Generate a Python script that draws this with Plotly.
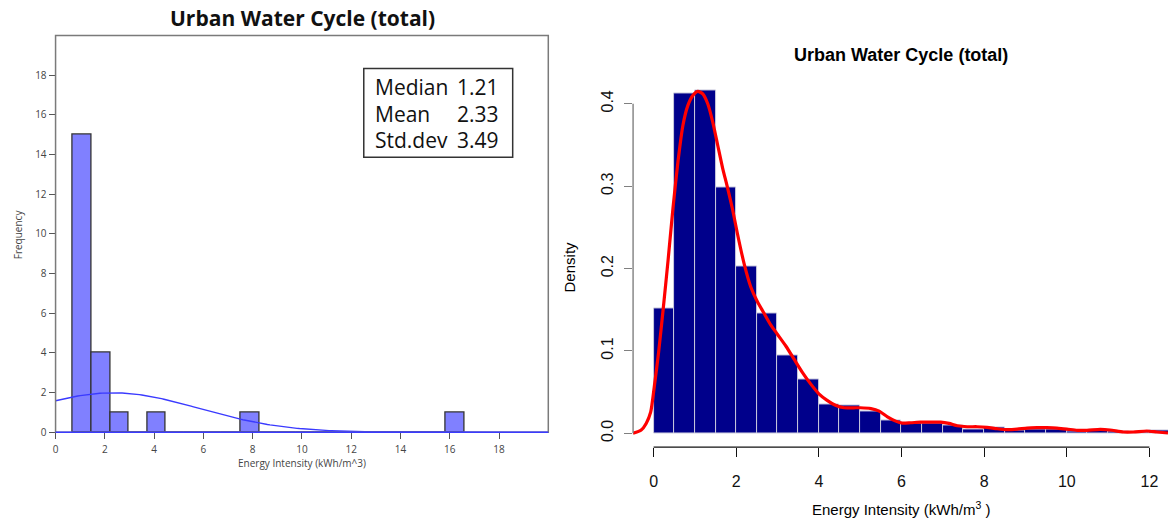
import numpy as np
import plotly.graph_objects as go

W, H = 1168, 528

# ---- Left panel: frequency histogram with fitted normal curve ----
freq_bin_start = 0.70
freq_bin_width = 0.757
freq_counts = [15, 4, 1, 0, 1, 0, 0, 0, 0, 1, 0, 0, 0, 0, 0, 0, 0, 0, 0, 0, 1]
stat_names = ["Median", "Mean", "Std.dev"]
stat_values = [1.21, 2.33, 3.49]
left_xticks = [0, 2, 4, 6, 8, 10, 12, 14, 16, 18]
left_yticks = [0, 2, 4, 6, 8, 10, 12, 14, 16, 18]

# ---- Right panel: density histogram with kernel density line ----
dens_bin_start = 0.0
dens_bin_width = 0.5
dens_values = [0.151, 0.413, 0.416, 0.299, 0.203, 0.145, 0.095, 0.065, 0.035, 0.034,
               0.027, 0.0152, 0.012, 0.0124, 0.0092, 0.0052, 0.007, 0.004, 0.0045, 0.005,
               0.0028, 0.003, 0.0018, 0.0012, 0.003]
kde_x = [-0.50, -0.30, -0.18, -0.07, 0.02, 0.12, 0.23, 0.35, 0.47, 0.59, 0.71, 0.83, 0.95,
         1.07, 1.19, 1.31, 1.43, 1.55, 1.67, 1.79, 1.91, 2.03, 2.19, 2.35, 2.51, 2.67,
         2.83, 3.00, 3.20, 3.40, 3.60, 3.80, 4.00, 4.20, 4.40, 4.61, 4.85, 5.00, 5.26,
         5.46, 5.66, 5.86, 6.02, 6.22, 6.46, 6.70, 6.95, 7.15, 7.35, 7.59, 7.83, 8.07,
         8.31, 8.56, 8.80, 9.04, 9.28, 9.52, 9.76, 10.00, 10.25, 10.49, 10.81, 11.05,
         11.37, 11.61, 11.94, 12.18, 12.45]
kde_y = [0.000, 0.004, 0.012, 0.026, 0.058, 0.098, 0.150, 0.210, 0.274, 0.330, 0.374, 0.398,
         0.410, 0.415, 0.412, 0.400, 0.378, 0.350, 0.322, 0.298, 0.272, 0.242, 0.206, 0.178,
         0.160, 0.146, 0.132, 0.120, 0.106, 0.090, 0.074, 0.060, 0.048, 0.040, 0.034, 0.031,
         0.031, 0.031, 0.030, 0.027, 0.020, 0.0148, 0.0124, 0.0128, 0.0136, 0.0136, 0.0136,
         0.012, 0.0092, 0.008, 0.008, 0.0072, 0.0056, 0.0044, 0.005, 0.0064, 0.0068, 0.0068,
         0.0064, 0.0052, 0.0036, 0.0036, 0.0048, 0.004, 0.0016, 0.0016, 0.0028, 0.0016, 0.0004]
right_xticks = [0, 2, 4, 6, 8, 10, 12]
right_yticks = [0.0, 0.1, 0.2, 0.3, 0.4]
right_yticklabels = ["0.0", "0.1", "0.2", "0.3", "0.4"]

TITLE = "Urban Water Cycle (total)"
SEGOE = "Open Sans, Noto Sans, sans-serif"
ARIAL = "Liberation Sans, Arial, sans-serif"


def px_x(p):
    return p / W


def px_y(p):
    return 1 - p / H


# panel geometry (paper fractions) and data ranges
L_XDOM = [px_x(52.7), px_x(546.7)]
L_YDOM = [px_y(437.3), px_y(36)]
R_XDOM = [px_x(631.7), 1.0]
R_YDOM = [px_y(452.3), px_y(74.3)]
L_XRANGE = [0, 20]
L_YRANGE = [0, 20]
R_XRANGE = [-0.497, 12.45]
R_YRANGE = [-0.0168, 0.4368]


def to_paper(v, dom, rng):
    return dom[0] + (v - rng[0]) / (rng[1] - rng[0]) * (dom[1] - dom[0])


fig = go.Figure()

# left histogram bars
n_total = sum(freq_counts)
freq_centers = [freq_bin_start + (i + 0.5) * freq_bin_width for i in range(len(freq_counts))]
fig.add_trace(go.Bar(
    x=freq_centers, y=freq_counts, width=freq_bin_width,
    marker=dict(color="rgba(128,128,255,1)", line=dict(color="#333333", width=1.3)),
    xaxis="x", yaxis="y", showlegend=False, hoverinfo="skip",
))

# fitted normal curve scaled to counts
mu, sd = stat_values[1], stat_values[2]
nx = np.linspace(0, 20, 201)
ny = n_total * freq_bin_width * np.exp(-0.5 * ((nx - mu) / sd) ** 2) / (sd * np.sqrt(2 * np.pi))
fig.add_trace(go.Scatter(
    x=nx, y=ny, mode="lines", line=dict(color="#3a3aff", width=1.4),
    xaxis="x", yaxis="y", showlegend=False, hoverinfo="skip",
))

# right histogram bars
dens_centers = [dens_bin_start + (i + 0.5) * dens_bin_width for i in range(len(dens_values))]
fig.add_trace(go.Bar(
    x=dens_centers, y=dens_values, width=dens_bin_width,
    marker=dict(color="#00008b", line=dict(color="#c9c9dc", width=1)),
    xaxis="x2", yaxis="y2", showlegend=False, hoverinfo="skip",
))

# kernel density line
fig.add_trace(go.Scatter(
    x=kde_x, y=kde_y, mode="lines",
    line=dict(color="#ff0000", width=3.2, shape="spline", smoothing=0.6),
    xaxis="x2", yaxis="y2", showlegend=False, hoverinfo="skip", cliponaxis=False,
))

left_tick_font = dict(family=SEGOE, size=10, color="#444444")
right_tick_font = dict(family=ARIAL, size=16, color="#111111")

fig.update_layout(
    width=W, height=H,
    margin=dict(l=0, r=0, t=0, b=0),
    paper_bgcolor="white", plot_bgcolor="white",
    bargap=0,
    barmode="overlay",
    xaxis=dict(
        domain=L_XDOM, range=L_XRANGE,
        tickvals=left_xticks, ticks="outside", ticklen=6, tickcolor="#555555",
        tickfont=left_tick_font, showgrid=False, zeroline=False, showline=False,
        anchor="y", ticklabelstandoff=2,
    ),
    yaxis=dict(
        domain=L_YDOM, range=L_YRANGE,
        tickvals=left_yticks, ticks="outside", ticklen=6, tickcolor="#555555",
        tickfont=left_tick_font, showgrid=False, zeroline=False, showline=False,
        anchor="x",
    ),
    xaxis2=dict(
        domain=R_XDOM, range=R_XRANGE,
        tickvals=right_xticks, ticks="outside", ticklen=9, tickwidth=1.4, tickcolor="#111111",
        tickfont=right_tick_font, showgrid=False, zeroline=False, showline=False,
        anchor="y2", ticklabelstandoff=11,
    ),
    yaxis2=dict(
        domain=R_YDOM, range=R_YRANGE,
        tickvals=right_yticks, ticktext=right_yticklabels, tickangle=-90,
        ticks="outside", ticklen=8, tickwidth=1.4, tickcolor="#808080",
        tickfont=right_tick_font, showgrid=False, zeroline=False, showline=False,
        anchor="x2", ticklabelstandoff=5,
    ),
)

shapes = [
    # left plot frame
    dict(type="rect", xref="paper", yref="paper",
         x0=L_XDOM[0], x1=L_XDOM[1], y0=L_YDOM[0], y1=L_YDOM[1],
         line=dict(color="#7a7a7a", width=1.5), layer="above"),
    # left baseline
    dict(type="line", xref="paper", yref="paper",
         x0=L_XDOM[0], x1=L_XDOM[1], y0=L_YDOM[0], y1=L_YDOM[0],
         line=dict(color="#3a3aff", width=1.5), layer="above"),
    # statistics box
    dict(type="rect", xref="paper", yref="paper",
         x0=px_x(361.7), x1=px_x(511), y0=px_y(159), y1=px_y(69.3),
         line=dict(color="#333333", width=1.5), fillcolor="white", layer="above"),
    # right y axis line (0 to 0.4)
    dict(type="line", xref="paper", yref="paper", x0=R_XDOM[0], x1=R_XDOM[0],
         y0=to_paper(right_yticks[0], R_YDOM, R_YRANGE),
         y1=to_paper(right_yticks[-1], R_YDOM, R_YRANGE),
         line=dict(color="#808080", width=1.4)),
    # right x axis line (0 to 12)
    dict(type="line", xref="paper", yref="paper", y0=R_YDOM[0], y1=R_YDOM[0],
         x0=to_paper(right_xticks[0], R_XDOM, R_XRANGE),
         x1=to_paper(right_xticks[-1], R_XDOM, R_XRANGE),
         line=dict(color="#111111", width=1.4)),
]

annotations = [
    dict(text="<b>" + TITLE + "</b>", x=px_x(300), y=px_y(18.3), xref="paper", yref="paper",
         showarrow=False, xanchor="center", yanchor="middle",
         font=dict(family=SEGOE, size=21, color="#111111")),
    dict(text="Frequency", x=px_x(15), y=px_y(237), xref="paper", yref="paper",
         showarrow=False, textangle=-90, xanchor="center", yanchor="middle",
         font=dict(family=SEGOE, size=10, color="#444444")),
    dict(text="Energy Intensity (kWh/m^3)", x=px_x(300), y=px_y(468.3), xref="paper", yref="paper",
         showarrow=False, xanchor="center", yanchor="middle",
         font=dict(family=SEGOE, size=10, color="#444444")),
    dict(text="<b>" + TITLE + "</b>", x=px_x(900), y=px_y(56), xref="paper", yref="paper",
         showarrow=False, xanchor="center", yanchor="middle",
         font=dict(family=ARIAL, size=18, color="#000000")),
    dict(text="Density", x=px_x(568), y=px_y(270), xref="paper", yref="paper",
         showarrow=False, textangle=-90, xanchor="center", yanchor="middle",
         font=dict(family=ARIAL, size=15, color="#000000")),
    dict(text="Energy Intensity (kWh/m<sup>3</sup> )", x=px_x(900), y=px_y(514), xref="paper",
         yref="paper", showarrow=False, xanchor="center", yanchor="middle",
         font=dict(family=ARIAL, size=15, color="#000000")),
]

row_y = [88.3, 115, 141.7]
for name, val, ry in zip(stat_names, stat_values, row_y):
    annotations.append(dict(text=name, x=px_x(371), y=px_y(ry), xref="paper", yref="paper",
                            showarrow=False, xanchor="left", yanchor="middle",
                            font=dict(family=SEGOE, size=21, color="#111111")))
    annotations.append(dict(text=f"{val:.2f}", x=px_x(499), y=px_y(ry), xref="paper", yref="paper",
                            showarrow=False, xanchor="right", yanchor="middle",
                            font=dict(family=SEGOE, size=21, color="#111111")))

fig.update_layout(shapes=shapes, annotations=annotations)

fig.write_html("out.html")
